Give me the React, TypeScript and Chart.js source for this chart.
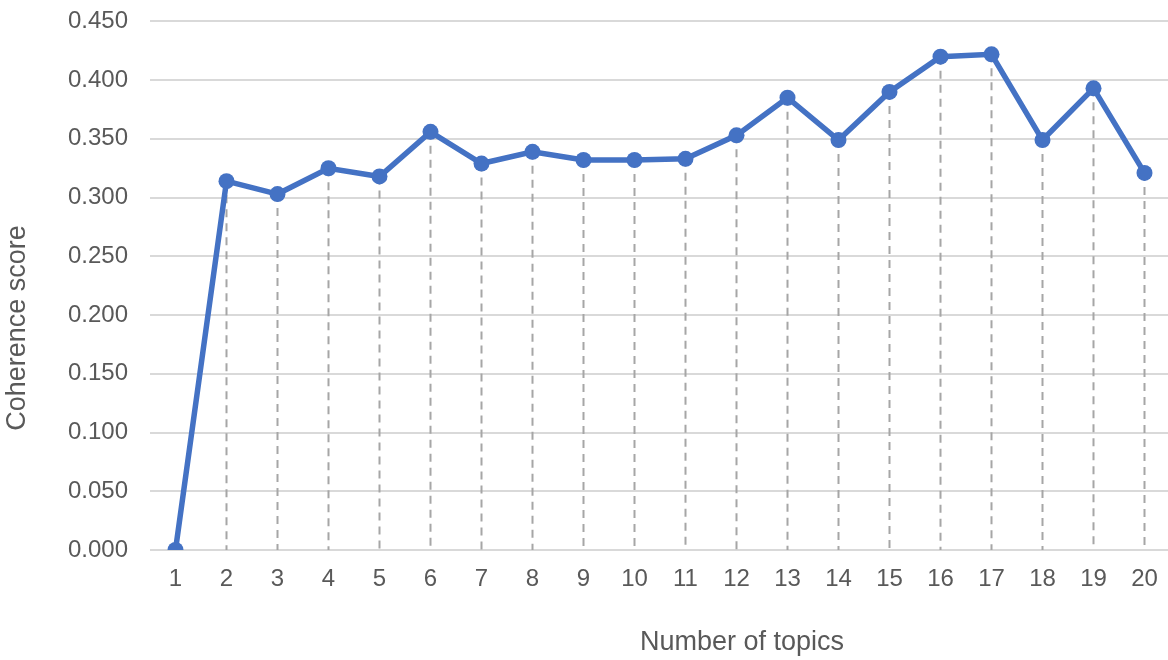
import React, { useEffect, useRef } from "react";
import { Chart, registerables } from "chart.js";

Chart.register(...registerables);

const topics = ["1","2","3","4","5","6","7","8","9","10","11","12","13","14","15","16","17","18","19","20"];
const coherence = [0, 0.314, 0.303, 0.325, 0.318, 0.356, 0.329, 0.339, 0.332, 0.332, 0.333, 0.353, 0.385, 0.349, 0.390, 0.420, 0.422, 0.349, 0.393, 0.321];
const xTitle = "Number of topics";
const yTitle = "Coherence score";

const TEXT = "#595959";
const FONT = "'Liberation Sans', Arial, sans-serif";
const SHIFT = 15;

const dropLines = {
  id: "dropLines",
  beforeDatasetsDraw(chart: any) {
    const { ctx, scales } = chart;
    const xs = scales.x, ys = scales.y;
    const base = ys.getPixelForValue(0);
    ctx.save();
    ctx.strokeStyle = "#A6A6A6";
    ctx.lineWidth = 2;
    ctx.setLineDash([8, 6]);
    coherence.forEach((v, i) => {
      if (v <= 0) return;
      const x = xs.getPixelForValue(i);
      const y = ys.getPixelForValue(v);
      ctx.beginPath();
      ctx.moveTo(x, y);
      ctx.lineTo(x, base);
      ctx.stroke();
    });
    ctx.restore();
  },
};

const axisTitles = {
  id: "axisTitles",
  afterDraw(chart: any) {
    const { ctx } = chart;
    ctx.save();
    ctx.fillStyle = TEXT;
    ctx.font = `27px ${FONT}`;
    ctx.textAlign = "center";
    ctx.textBaseline = "middle";
    ctx.fillText(xTitle, 742, 643 + SHIFT);
    ctx.translate(18, 328 + SHIFT);
    ctx.rotate(-Math.PI / 2);
    ctx.fillText(yTitle, 0, 0);
    ctx.restore();
  },
};

export default function App() {
  const ref = useRef<HTMLCanvasElement | null>(null);
  useEffect(() => {
    if (!ref.current) return;
    const chart = new Chart(ref.current, {
      type: "line",
      data: {
        labels: topics,
        datasets: [
          {
            data: coherence,
            borderColor: "#4472C4",
            backgroundColor: "#4472C4",
            borderWidth: 5.5,
            pointRadius: 8,
            pointBorderWidth: 0,
            pointBackgroundColor: "#4472C4",
            tension: 0,
          },
        ],
      },
      options: {
        animation: false,
        responsive: true,
        maintainAspectRatio: false,
        layout: { padding: { left: 0, right: 0, top: 6, bottom: 0 } },
        plugins: { legend: { display: false }, tooltip: { enabled: false } },
        scales: {
          x: {
            offset: true,
            grid: { display: false, drawTicks: false },
            border: { display: false },
            ticks: { color: TEXT, font: { family: FONT, size: 24 }, padding: 15, maxRotation: 0, autoSkip: false },
            afterFit: (s: any) => { s.height = 110; },
          },
          y: {
            min: 0,
            max: 0.45,
            grid: { color: "#D9D9D9", lineWidth: 2, drawTicks: false },
            border: { display: false },
            ticks: {
              stepSize: 0.05,
              color: TEXT,
              font: { family: FONT, size: 24 },
              padding: 22,
              callback: (v: any) => Number(v).toFixed(3),
            },
            afterFit: (s: any) => { s.width = 150; },
          },
        },
      },
      plugins: [dropLines, axisTitles],
    });
    return () => chart.destroy();
  }, []);
  return (
    <div style={{ position: "fixed", left: 0, top: 0, width: 1168, height: 660, background: "#fff", overflow: "hidden" }}>
      <div style={{ position: "absolute", left: 0, top: -SHIFT, width: 1178, height: 660 + SHIFT }}>
        <canvas ref={ref} />
      </div>
    </div>
  );
}
